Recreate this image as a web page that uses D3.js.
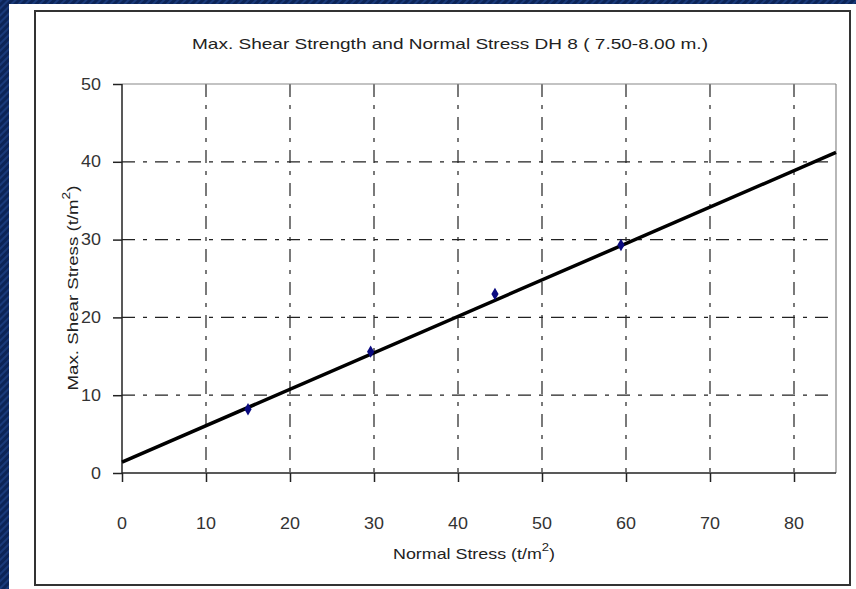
<!DOCTYPE html>
<html><head><meta charset="utf-8">
<script src="https://cdn.jsdelivr.net/npm/d3@7"></script>
<style>html,body{margin:0;padding:0;background:#0b2152;}svg{display:block;}</style>
</head><body>
<script>
const titleText = "Max. Shear Strength and Normal Stress DH 8 ( 7.50-8.00 m.)";
const xTicks = [0, 10, 20, 30, 40, 50, 60, 70, 80];
const yTicks = [0, 10, 20, 30, 40, 50];
const normalStress = [15, 29.6, 44.4, 59.4];
const shearStress = [8.2, 15.6, 23.0, 29.3];
const trendX = [0, 85];
const trendY = [1.4, 41.2];

const W = 856, H = 589;
const svg = d3.select("body").append("svg").attr("width", W).attr("height", H);
const defs = svg.append("defs");
const pat = defs.append("pattern").attr("id", "tex").attr("width", 5).attr("height", 5)
  .attr("patternUnits", "userSpaceOnUse").attr("patternTransform", "rotate(45)");
pat.append("rect").attr("width", 5).attr("height", 5).attr("fill", "#0c2457");
pat.append("rect").attr("width", 2).attr("height", 5).attr("fill", "#1a3a7a");
svg.append("rect").attr("width", W).attr("height", H).attr("fill", "url(#tex)");
svg.append("rect").attr("x", 9).attr("y", 4).attr("width", W - 9).attr("height", H - 4).attr("fill", "#fff");
svg.append("rect").attr("x", 35).attr("y", 11).attr("width", 815).attr("height", 574)
  .attr("fill", "none").attr("stroke", "#333").attr("stroke-width", 2);

const L = 122, R = 836, T = 84, B = 473;
const x = d3.scaleLinear().domain([0, 85]).range([L, R]);
const y = d3.scaleLinear().domain([0, 50]).range([B, T]);
const font = "'Liberation Sans', Arial, sans-serif";
const dash = "13,8,4,8";

// gridlines
const g = svg.append("g");
g.selectAll(".vg").data(xTicks.filter(d => d > 0)).join("line")
  .attr("x1", d => x(d)).attr("x2", d => x(d)).attr("y1", T).attr("y2", B)
  .attr("stroke", "#222").attr("stroke-width", 1.2).attr("stroke-dasharray", dash);
g.selectAll(".hg").data(yTicks.filter(d => d > 0 && d < 50)).join("line")
  .attr("x1", L).attr("x2", R).attr("y1", d => y(d)).attr("y2", d => y(d))
  .attr("stroke", "#222").attr("stroke-width", 1.2).attr("stroke-dasharray", dash);

// plot border top/right
svg.append("line").attr("x1", L).attr("x2", R).attr("y1", T).attr("y2", T).attr("stroke", "#888").attr("stroke-width", 1.2);
svg.append("line").attr("x1", R).attr("x2", R).attr("y1", T).attr("y2", B).attr("stroke", "#888").attr("stroke-width", 1.2);

// axes
const xAxis = d3.axisBottom(x).tickValues(xTicks).tickSize(9).tickFormat("");
const yAxis = d3.axisLeft(y).tickValues(yTicks).tickSize(9).tickFormat("");
const xa = svg.append("g").attr("transform", `translate(0,${B})`).call(xAxis);
xa.select(".domain").attr("d", `M${L},0H${R}`);
const ya = svg.append("g").attr("transform", `translate(${L},0)`).call(yAxis);
ya.select(".domain").attr("d", `M0,${B}V${T}`);
svg.selectAll(".domain, .tick line").attr("stroke", "#222").attr("stroke-width", 1.5);

function stretch(sel, k) {
  sel.each(function () {
    const w = this.getComputedTextLength();
    d3.select(this).attr("textLength", w * k).attr("lengthAdjust", "spacingAndGlyphs");
  });
}

// tick labels
svg.append("g").selectAll("text").data(xTicks).join("text")
  .attr("x", d => x(d)).attr("y", 529).attr("text-anchor", "middle")
  .attr("font-family", font).attr("font-size", 16).attr("fill", "#333").text(d => d)
  .call(stretch, 1.12);
svg.append("g").selectAll("text").data(yTicks).join("text")
  .attr("x", 101).attr("y", d => y(d) + 5.5).attr("text-anchor", "end")
  .attr("font-family", font).attr("font-size", 16).attr("fill", "#333").text(d => d)
  .call(stretch, 1.12);

// title
svg.append("text").attr("x", 450).attr("y", 49).attr("text-anchor", "middle")
  .attr("font-family", font).attr("font-size", 15).attr("fill", "#222")
  .attr("textLength", 516).attr("lengthAdjust", "spacingAndGlyphs").text(titleText);

// x axis title
const xt = svg.append("text").attr("x", 474).attr("y", 559).attr("text-anchor", "middle")
  .attr("font-family", font).attr("font-size", 15).attr("fill", "#222")
  .attr("textLength", 162).attr("lengthAdjust", "spacingAndGlyphs");
xt.append("tspan").text("Normal Stress (t/m");
xt.append("tspan").attr("dy", -8).attr("font-size", 11).text("2");
xt.append("tspan").attr("dy", 8).text(")");

// y axis title
const yt = svg.append("text").attr("transform", "translate(78,288) rotate(-90)").attr("text-anchor", "middle")
  .attr("font-family", font).attr("font-size", 15).attr("fill", "#222")
  .attr("textLength", 205).attr("lengthAdjust", "spacingAndGlyphs");
yt.append("tspan").text("Max. Shear Stress (t/m");
yt.append("tspan").attr("dy", -8).attr("font-size", 11).text("2");
yt.append("tspan").attr("dy", 8).text(")");

// trend line
svg.append("line").attr("x1", x(trendX[0])).attr("y1", y(trendY[0]))
  .attr("x2", x(trendX[1])).attr("y2", y(trendY[1]))
  .attr("stroke", "#000").attr("stroke-width", 3.5);

// points
svg.append("g").selectAll("path").data(normalStress).join("path")
  .attr("d", d3.symbol(d3.symbolDiamond, 45))
  .attr("transform", (d, i) => `translate(${x(d)},${y(shearStress[i])})`)
  .attr("fill", "#0a0a80");
</script>
</body></html>
